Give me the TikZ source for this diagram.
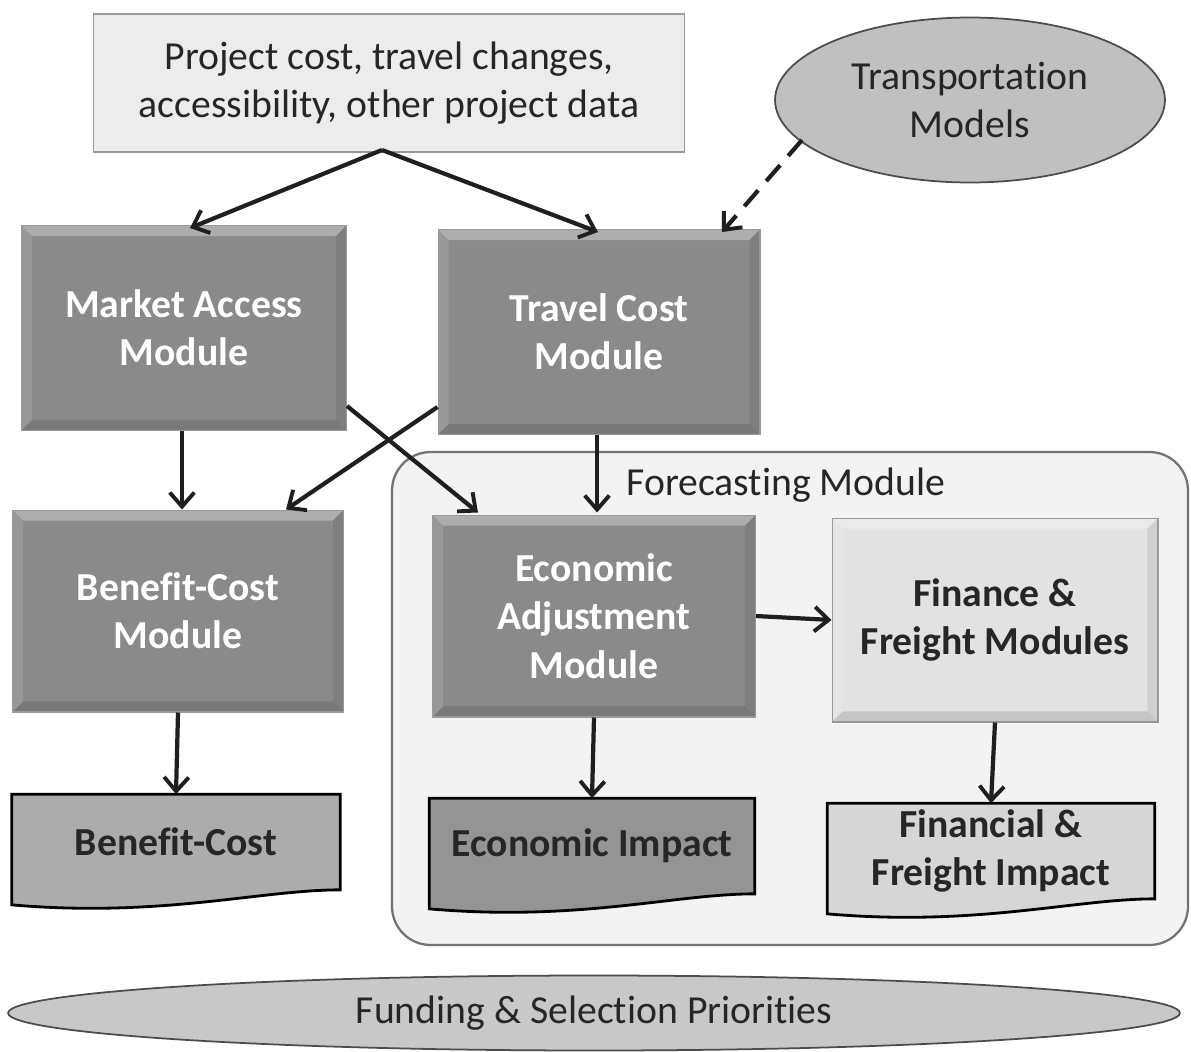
\documentclass[tikz,border=0pt]{standalone}
\usepackage{fontspec}
\setmainfont{Carlito}[Ligatures=NoCommon]
\usetikzlibrary{arrows.meta,shapes.geometric,calc}
\pgfdeclarelayer{bg}
\pgfdeclarelayer{docbg}
\pgfsetlayers{bg,docbg,main}
\definecolor{modgray}{RGB}{138,138,138}
\definecolor{lightbox}{RGB}{236,236,236}
\definecolor{finbox}{RGB}{226,226,226}
\definecolor{contfill}{RGB}{243,243,243}
\definecolor{ellgray}{RGB}{192,192,192}
\definecolor{fundgray}{RGB}{200,200,200}
\definecolor{docA}{RGB}{172,172,172}
\definecolor{docB}{RGB}{148,148,148}
\definecolor{docC}{RGB}{214,214,214}
\newcommand{\bigf}{\fontsize{22.6}{27.5}\selectfont}
\tikzset{
  bevel/.style={path picture={
    \fill[white,opacity=0.30] (path picture bounding box.north west) -- (path picture bounding box.north east) -- ([xshift=-6pt,yshift=-6pt]path picture bounding box.north east) -- ([xshift=6pt,yshift=-6pt]path picture bounding box.north west) -- cycle;
    \fill[white,opacity=0.12] (path picture bounding box.north west) -- ([xshift=6pt,yshift=-6pt]path picture bounding box.north west) -- ([xshift=6pt,yshift=6pt]path picture bounding box.south west) -- (path picture bounding box.south west) -- cycle;
    \fill[black,opacity=0.12] (path picture bounding box.south west) -- (path picture bounding box.south east) -- ([xshift=-6pt,yshift=6pt]path picture bounding box.south east) -- ([xshift=6pt,yshift=6pt]path picture bounding box.south west) -- cycle;
    \fill[black,opacity=0.08] (path picture bounding box.north east) -- ([xshift=-6pt,yshift=-6pt]path picture bounding box.north east) -- ([xshift=-6pt,yshift=6pt]path picture bounding box.south east) -- (path picture bounding box.south east) -- cycle;
  }},
  module/.style={rectangle, bevel, fill=modgray, draw=black!40, line width=0.6pt,
    text=white, font=\bigf\bfseries, align=center,
    minimum width=6.5cm, minimum height=4.1cm, inner sep=0pt},
  lmodule/.style={module, fill=finbox, text=black!85},
  doctext/.style={rectangle, align=center, font=\bigf\bfseries,
    text=black!85, minimum width=6.56cm, minimum height=1.9cm, inner sep=0pt},
  docshape/.style={draw=black, line width=1.6pt},
  arr/.style={-{Straight Barb[length=8pt,width=14pt,line width=2.2pt]}, line width=2.4pt, black!88},
}
\begin{document}
\begin{tikzpicture}[x=0.02cm,y=-0.02cm]
\useasboundingbox (0,0) rectangle (1191,1052);
\begin{pgfonlayer}{bg}
\fill[white] (0,0) rectangle (1191,1052);
\draw[fill=contfill, draw=black!55, line width=1.3pt, rounded corners=22pt] (392,452) rectangle (1188,945);
\end{pgfonlayer}
\node[font=\bigf, text=black!85] (fclab) at (786,485) {Forecasting Module};

% top box
\node[rectangle, fill=lightbox, draw=black!40, line width=0.6pt, minimum width=11.84cm, minimum height=2.76cm,
  align=center, font=\bigf, text=black!85] (proj) at (389,83)
  {Project cost, travel changes,\\accessibility, other project data};

% transportation models
\node[ellipse, fill=ellgray, draw=black!70, line width=1.0pt, minimum width=7.8cm, minimum height=3.3cm,
  align=center, font=\bigf, text=black!85, inner sep=0pt] (tm) at (970,100)
  {Transportation\\Models};

% modules
\node[module] (mam) at (184,328) {Market Access\\Module};
\node[module, minimum width=6.44cm] (tcm) at (599,332) {Travel Cost\\Module};
\node[module, minimum width=6.62cm, minimum height=4.04cm] (bcm) at (178,611) {Benefit-Cost\\Module};
\node[module, minimum width=6.46cm, minimum height=4.04cm] (eam) at (594,616) {Economic\\Adjustment\\Module};
\node[lmodule, minimum width=6.52cm, minimum height=4.08cm] (ffm) at (995,620) {Finance \&\\Freight Modules};

% documents
\node[doctext] (bcd) at (176,842) {Benefit-Cost};
\node[doctext, minimum width=6.5cm] (eid) at (592,846) {Economic Impact};
\node[doctext, minimum width=6.54cm] (fid) at (991,851) {Financial \&\\Freight Impact};
\begin{pgfonlayer}{docbg}
\foreach \n/\c in {bcd/docA, eid/docB, fid/docC}{
  \draw[docshape, fill=\c] (\n.south west) -- (\n.north west) -- (\n.north east) -- (\n.south east)
    .. controls ($(\n.south east)+(-80,0)$) and ($(\n.south west)+(150,28)$) ..
    ($(\n.south west)+(0,15)$) -- cycle;
}
\end{pgfonlayer}

% funding ellipse
\node[ellipse, fill=fundgray, draw=black!70, line width=1.0pt, minimum width=23.44cm, minimum height=1.5cm,
  font=\bigf, text=black!85, inner sep=0pt] (fund) at (594,1013)
  {\raisebox{-3pt}{Funding \& Selection Priorities}};

% connectors
\coordinate (projb) at (382,150);
\coordinate (tmstart) at ($(tm.center)+(-168,40)$);
\draw[arr] (projb) -- (190,228);
\draw[arr] (projb) -- (598,232);
\draw[arr, dash pattern=on 12pt off 7pt] (tmstart) -- (722,232);
\draw[arr] ($(mam.south)+(-2,0)$) -- ($(bcm.north)+(4,0)$);
\draw[arr] ($(tcm.south west)+(0,-28)$) -- ($(bcm.north east)+(-58,0)$);
\draw[arr] ($(mam.south east)+(0,-25)$) -- ($(eam.north west)+(46,-2)$);
\draw[arr] ($(tcm.south)+(-2,0)$) -- ($(eam.north)+(3,-2)$);
\draw[arr] (eam.east) -- (ffm.west);
\draw[arr] (bcm.south) -- (bcd.north);
\draw[arr] (eam.south) -- (eid.north);
\draw[arr] (ffm.south) -- (fid.north);
\end{tikzpicture}
\end{document}
